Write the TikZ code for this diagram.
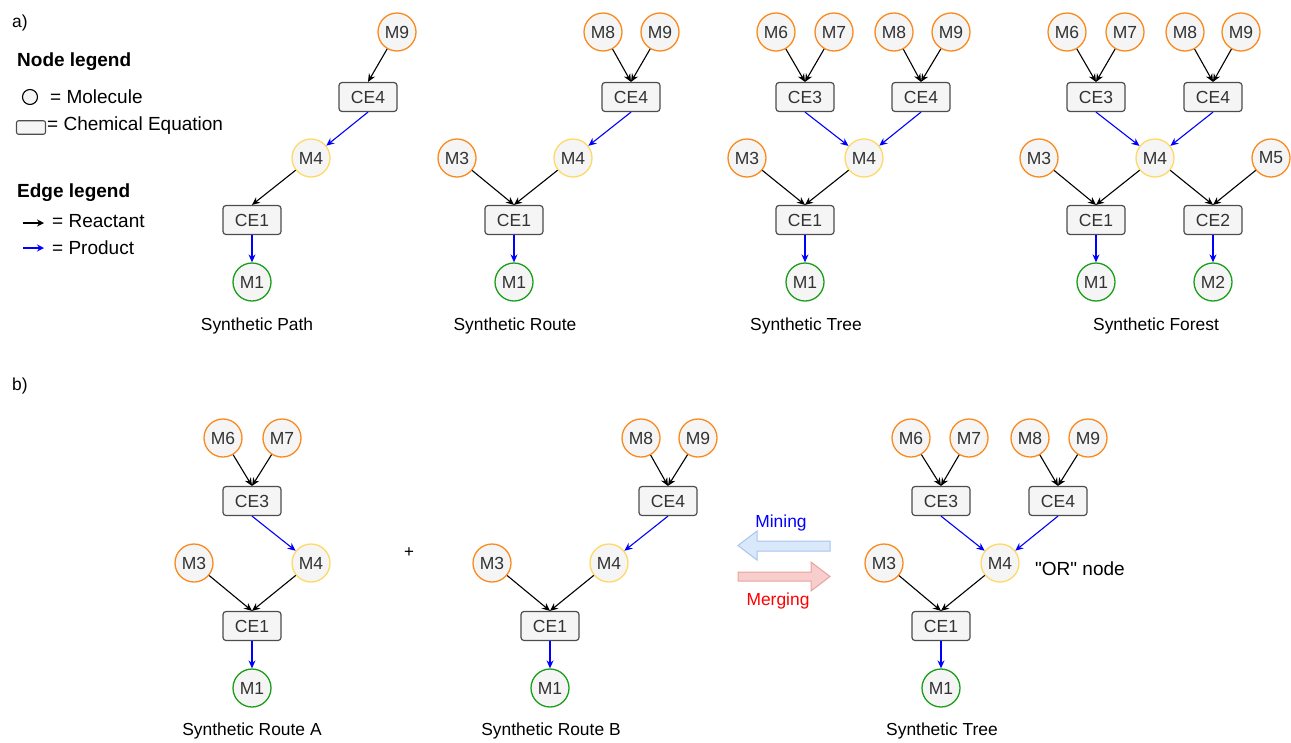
\documentclass[tikz,border=0pt]{standalone}
\usepackage{fontspec}
\setmainfont{Liberation Sans}
\newfontfamily\plainquotes{Liberation Sans}
\usetikzlibrary{arrows.meta}

\definecolor{nodefill}{HTML}{F5F5F5}
\definecolor{txt}{HTML}{333333}
\definecolor{ceborder}{HTML}{4D4D4D}
\definecolor{orangeM}{HTML}{FB8A1E}
\definecolor{yellowM}{HTML}{FFD966}
\definecolor{greenM}{HTML}{1A9E1A}
\definecolor{minefill}{HTML}{DAE8FC}
\definecolor{minedraw}{HTML}{A9C4EB}
\definecolor{mergefill}{HTML}{F8CECC}
\definecolor{mergedraw}{HTML}{E6A3A0}

\tikzset{
  lbl/.style={font=\fontsize{17.4}{19}\selectfont, text=black, inner sep=0},
  leg/.style={font=\fontsize{19}{21}\selectfont, text=black, inner sep=0},
  mol/.style={circle, line width=1.3pt, fill=nodefill, minimum size=38pt,
    inner sep=0, text=txt, font=\fontsize{17.5}{19}\selectfont},
  start/.style={mol, draw=orangeM},
  inter/.style={mol, draw=yellowM},
  target/.style={mol, draw=greenM},
  ce/.style={rectangle, rounded corners=3pt, draw=ceborder, line width=1.2pt,
    fill=nodefill, minimum width=58pt, minimum height=29pt, inner sep=0,
    text=txt, font=\fontsize{17.5}{19}\selectfont},
  react/.style={-{Stealth[length=8pt,width=7pt]}, line width=1.1pt, black},
  prod/.style={-{Stealth[length=8pt,width=7pt]}, line width=1.1pt, blue},
}

\begin{document}
\begin{tikzpicture}[x=1pt, y=-1pt]
\useasboundingbox (0,0) rectangle (1291,742);

% ---------------- panel labels ----------------
\node[lbl, anchor=west] (la) at (12,23) {a)};
\node[lbl, anchor=west] (lb) at (12,386) {b)};

% ---------------- legend ----------------
\node[leg, anchor=west, font=\bfseries\fontsize{19}{21}\selectfont] (nleg) at (17,62) {Node legend};
\node[circle, draw=black, line width=1.1pt, fill=nodefill, minimum size=15pt, inner sep=0] (lmol) at (30,97) {};
\node[leg, anchor=west] (lmolt) at (50,97) {= Molecule};
\node[rectangle, rounded corners=2pt, draw=ceborder, line width=1.1pt, fill=nodefill,
  minimum width=29pt, minimum height=13.5pt, inner sep=0] (lce) at (31,127.5) {};
\node[leg, anchor=west] (lcet) at (47,126) {= Chemical Equation};
\node[leg, anchor=west, font=\bfseries\fontsize{19}{21}\selectfont] (eleg) at (17,193) {Edge legend};
\coordinate (lr1) at (23,223);
\coordinate (lr2) at (44,223);
\draw[-{Stealth[length=7pt,width=7pt]}, line width=2.2pt, black] (lr1) -- (lr2);
\node[leg, anchor=west] (lrt) at (52,221) {= Reactant};
\coordinate (lp1) at (23,248);
\coordinate (lp2) at (44,248);
\draw[-{Stealth[length=7pt,width=7pt]}, line width=2.2pt, blue] (lp1) -- (lp2);
\node[leg, anchor=west] (lpt) at (52,248) {= Product};

% ---------------- Synthetic Path ----------------
\node[start]  (pM9) at (397,32) {M9};
\node[ce]     (pCE4) at (368,97) {CE4};
\node[inter]  (pM4) at (311,158) {M4};
\node[ce]     (pCE1) at (252,220) {CE1};
\node[target] (pM1) at (252,282) {M1};
\draw[react] (pM9) -- (pCE4.north);
\draw[prod]  (pCE4.south) -- (pM4);
\draw[react] (pM4) -- (pCE1.north);
\draw[prod]  (pCE1.south) -- (pM1);
\node[lbl] (pT) at (257,326) {Synthetic Path};

% ---------------- Synthetic Route ----------------
\node[start]  (rM8) at (603,32) {M8};
\node[start]  (rM9) at (660,32) {M9};
\node[ce]     (rCE4) at (631,97) {CE4};
\node[start]  (rM3) at (457,158) {M3};
\node[inter]  (rM4) at (573,158) {M4};
\node[ce]     (rCE1) at (514,220) {CE1};
\node[target] (rM1) at (514,282) {M1};
\draw[react] (rM8) -- (rCE4.north);
\draw[react] (rM9) -- (rCE4.north);
\draw[prod]  (rCE4.south) -- (rM4);
\draw[react] (rM3) -- (rCE1.north);
\draw[react] (rM4) -- (rCE1.north);
\draw[prod]  (rCE1.south) -- (rM1);
\node[lbl] (rT) at (515,326) {Synthetic Route};

% ---------------- Synthetic Tree ----------------
\node[start]  (tM6) at (776,32) {M6};
\node[start]  (tM7) at (834,32) {M7};
\node[start]  (tM8) at (894,32) {M8};
\node[start]  (tM9) at (951,32) {M9};
\node[ce]     (tCE3) at (805,97) {CE3};
\node[ce]     (tCE4) at (921,97) {CE4};
\node[start]  (tM3) at (747,158) {M3};
\node[inter]  (tM4) at (864,158) {M4};
\node[ce]     (tCE1) at (805,220) {CE1};
\node[target] (tM1) at (805,282) {M1};
\draw[react] (tM6) -- (tCE3.north);
\draw[react] (tM7) -- (tCE3.north);
\draw[react] (tM8) -- (tCE4.north);
\draw[react] (tM9) -- (tCE4.north);
\draw[prod]  (tCE3.south) -- (tM4);
\draw[prod]  (tCE4.south) -- (tM4);
\draw[react] (tM3) -- (tCE1.north);
\draw[react] (tM4) -- (tCE1.north);
\draw[prod]  (tCE1.south) -- (tM1);
\node[lbl] (tT) at (806,326) {Synthetic Tree};

% ---------------- Synthetic Forest ----------------
\node[start]  (fM6) at (1067,32) {M6};
\node[start]  (fM7) at (1125,32) {M7};
\node[start]  (fM8) at (1185,32) {M8};
\node[start]  (fM9) at (1241,32) {M9};
\node[ce]     (fCE3) at (1096,97) {CE3};
\node[ce]     (fCE4) at (1213,97) {CE4};
\node[start]  (fM3) at (1039,158) {M3};
\node[inter]  (fM4) at (1155,158) {M4};
\node[start]  (fM5) at (1271,158) {M5};
\node[ce]     (fCE1) at (1096,220) {CE1};
\node[ce]     (fCE2) at (1213,220) {CE2};
\node[target] (fM1) at (1096,282) {M1};
\node[target] (fM2) at (1213,282) {M2};
\draw[react] (fM6) -- (fCE3.north);
\draw[react] (fM7) -- (fCE3.north);
\draw[react] (fM8) -- (fCE4.north);
\draw[react] (fM9) -- (fCE4.north);
\draw[prod]  (fCE3.south) -- (fM4);
\draw[prod]  (fCE4.south) -- (fM4);
\draw[react] (fM3) -- (fCE1.north);
\draw[react] (fM4) -- (fCE1.north);
\draw[react] (fM4) -- (fCE2.north);
\draw[react] (fM5) -- (fCE2.north);
\draw[prod]  (fCE1.south) -- (fM1);
\draw[prod]  (fCE2.south) -- (fM2);
\node[lbl] (fT) at (1156,326) {Synthetic Forest};

% ---------------- Synthetic Route A ----------------
\node[start]  (aM6) at (223,438) {M6};
\node[start]  (aM7) at (282,438) {M7};
\node[ce]     (aCE3) at (252,501) {CE3};
\node[start]  (aM3) at (194,563) {M3};
\node[inter]  (aM4) at (311,563) {M4};
\node[ce]     (aCE1) at (252,626) {CE1};
\node[target] (aM1) at (252,688) {M1};
\draw[react] (aM6) -- (aCE3.north);
\draw[react] (aM7) -- (aCE3.north);
\draw[prod]  (aCE3.south) -- (aM4);
\draw[react] (aM3) -- (aCE1.north);
\draw[react] (aM4) -- (aCE1.north);
\draw[prod]  (aCE1.south) -- (aM1);
\node[lbl] (aT) at (252,731) {Synthetic Route A};

\node[lbl, font=\fontsize{17}{19}\selectfont] (plus) at (409,553) {+};

% ---------------- Synthetic Route B ----------------
\node[start]  (bM8) at (641,438) {M8};
\node[start]  (bM9) at (698,438) {M9};
\node[ce]     (bCE4) at (668,501) {CE4};
\node[start]  (bM3) at (492,563) {M3};
\node[inter]  (bM4) at (609,563) {M4};
\node[ce]     (bCE1) at (550,626) {CE1};
\node[target] (bM1) at (550,688) {M1};
\draw[react] (bM8) -- (bCE4.north);
\draw[react] (bM9) -- (bCE4.north);
\draw[prod]  (bCE4.south) -- (bM4);
\draw[react] (bM3) -- (bCE1.north);
\draw[react] (bM4) -- (bCE1.north);
\draw[prod]  (bCE1.south) -- (bM1);
\node[lbl] (bT) at (551,731) {Synthetic Route B};

% ---------------- Mining / Merging block arrows ----------------
\draw[fill=minefill, draw=minedraw, line width=1pt]
  (738,545.5) -- (757,531) -- (757,541) -- (830,541) -- (830,551)
  -- (757,551) -- (757,560) -- cycle;
\node[lbl, text=blue] (mining) at (781,523) {Mining};
\draw[fill=mergefill, draw=mergedraw, line width=1pt]
  (830,576.5) -- (811,562) -- (811,572) -- (738,572) -- (738,581)
  -- (811,581) -- (811,591) -- cycle;
\node[lbl, text=red] (merging) at (778,601) {Merging};

% ---------------- merged Synthetic Tree ----------------
\node[start]  (cM6) at (911,438) {M6};
\node[start]  (cM7) at (969,438) {M7};
\node[start]  (cM8) at (1030,438) {M8};
\node[start]  (cM9) at (1088,438) {M9};
\node[ce]     (cCE3) at (941,501) {CE3};
\node[ce]     (cCE4) at (1058,501) {CE4};
\node[start]  (cM3) at (884,563) {M3};
\node[inter]  (cM4) at (1000,563) {M4};
\node[ce]     (cCE1) at (941,626) {CE1};
\node[target] (cM1) at (941,688) {M1};
\draw[react] (cM6) -- (cCE3.north);
\draw[react] (cM7) -- (cCE3.north);
\draw[react] (cM8) -- (cCE4.north);
\draw[react] (cM9) -- (cCE4.north);
\draw[prod]  (cCE3.south) -- (cM4);
\draw[prod]  (cCE4.south) -- (cM4);
\draw[react] (cM3) -- (cCE1.north);
\draw[react] (cM4) -- (cCE1.north);
\draw[prod]  (cCE1.south) -- (cM1);
\node[lbl] (cT) at (942,731) {Synthetic Tree};
\node[leg, anchor=west, font=\plainquotes\fontsize{19}{21}\selectfont] (ornode) at (1035,569) {"OR" node};

\end{tikzpicture}
\end{document}
